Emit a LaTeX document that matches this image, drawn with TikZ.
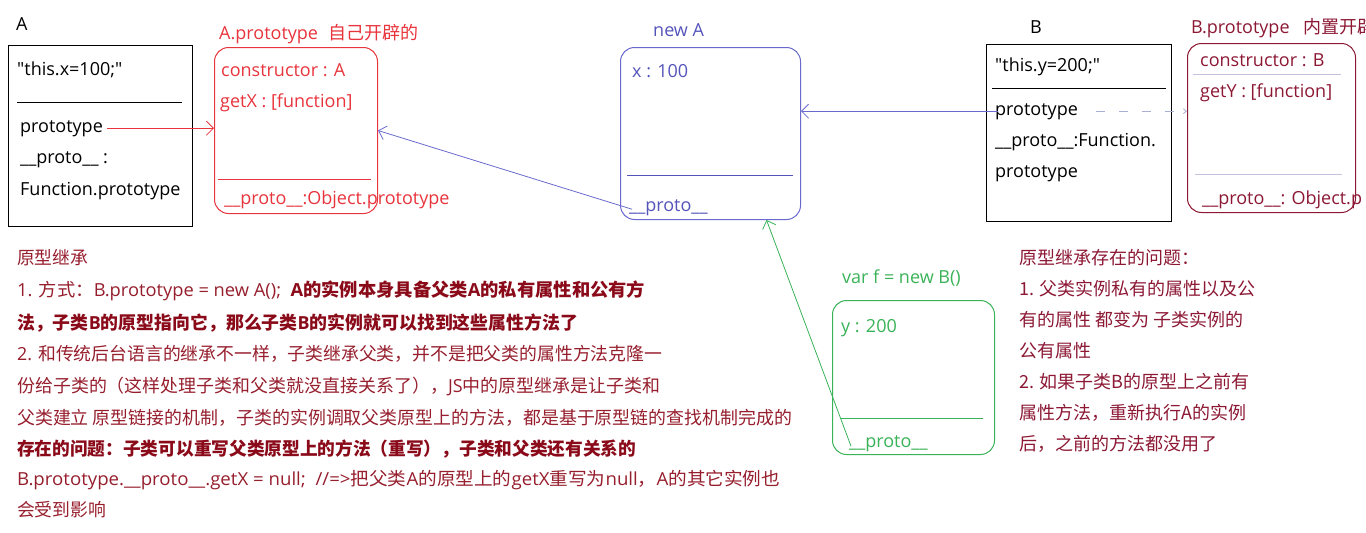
\documentclass[tikz,border=0pt]{standalone}
\usepackage{fontspec}
\setmainfont{Open Sans}[Ligatures=TeXOff]
\newfontfamily\cjk{Noto Sans CJK SC}
\usetikzlibrary{arrows.meta}
\newcommand\z[1]{{\cjk #1}}
\newcommand\fitw[2]{\resizebox{#1}{\height}{#2}}
\definecolor{cRed}{RGB}{232,52,60}
\definecolor{cBlue}{RGB}{84,84,186}
\definecolor{cBlueLine}{RGB}{106,106,206}
\definecolor{cGreen}{RGB}{58,178,88}
\definecolor{cMaroon}{RGB}{140,24,52}
\definecolor{cText}{RGB}{150,30,45}
\definecolor{cBold}{RGB}{138,10,25}
\definecolor{cDash}{RGB}{168,176,210}
\definecolor{cSep}{RGB}{195,195,225}
\begin{document}
\begin{tikzpicture}[x=1pt,y=-1pt,
  t/.style={anchor=base west, inner sep=0pt, font=\fontsize{18}{21}\selectfont},
  sqbox/.style={draw, line width=1.1pt, anchor=north west, inner sep=0pt},
  rbox/.style={draw, line width=1pt, rounded corners=14pt, anchor=north west, inner sep=0pt},
  sep/.style={line width=0.8pt},
  arr/.style={-{Straight Barb[length=7pt,width=14pt]}, line width=0.8pt}]
\useasboundingbox (0,0) rectangle (1366,533);
\clip (0,0) rectangle (1366,533);

% ---------- A ----------
\node[t] (lblA) at (16,30) {A};
\node[sqbox, minimum width=184pt, minimum height=181pt] (Abox) at (8,45) {};
\node[t] (Acode) at (17,75) {"this.x=100;"};
\draw[sep] (17,102) -- (182,102);
\node[t] (pA) at (20,132) {prototype};
\node[t] (Apr) at (20,163) {\_\_proto\_\_ :};
\node[t] (Afn) at (20,195) {Function.prototype};

% ---------- A.prototype ----------
\node[t, text=cRed] (lblAP) at (219,39) {A.prototype\hspace{10pt}\z{自己开辟的}};
\node[rbox, draw=cRed, minimum width=163pt, minimum height=166pt] (AP) at (214,47) {};
\node[t, text=cRed] (APc) at (221,76) {constructor : A};
\node[t, text=cRed] (APg) at (220,107) {getX : [function]};
\draw[sep, cRed] (218,179) -- (371,179);
\node[t, text=cRed] (APp) at (224,204) {\_\_proto\_\_:Object.prototype};

% ---------- new A ----------
\node[t, text=cBlue] (lblN) at (653,36) {new A};
\node[rbox, draw=cBlueLine, minimum width=180pt, minimum height=172pt] (NA) at (620,47) {};
\node[t, text=cBlue] (NAx) at (632,77) {x : 100};
\draw[sep, cBlue] (627,175) -- (793,175);
\node[t, text=cBlue] (NAp) at (629,211) {\_\_proto\_\_};

% ---------- B ----------
\node[t] (lblB) at (1030,33) {B};
\node[sqbox, minimum width=185pt, minimum height=177pt] (Bbox) at (986,44) {};
\node[t] (Bcode) at (995,71) {"this.y=200;"};
\draw[sep] (992,88) -- (1166,88);
\node[t] (pB) at (995,115) {prototype};
\node[t] (Bpr) at (995,146) {\_\_proto\_\_:Function.};
\node[t] (Bfn) at (995,177) {prototype};

% ---------- B.prototype ----------
\node[t, text=cMaroon] (lblBP) at (1191,33) {B.prototype\hspace{14pt}\z{内置开辟}};
\node[rbox, draw=cMaroon, minimum width=168pt, minimum height=169pt] (BP) at (1187,43) {};
\node[t, text=cMaroon] (BPc) at (1200,66) {constructor : B};
\draw[sep, cSep] (1193,74) -- (1341,74);
\node[t, text=cMaroon] (BPg) at (1200,97) {getY : [function]};
\draw[sep, cSep] (1195,174) -- (1342,174);
\node[t, text=cMaroon] (BPp) at (1202,204) {\_\_proto\_\_: Object.p};

% ---------- f ----------
\node[t, text=cGreen] (lblF) at (842,283) {var f = new B()};
\node[rbox, draw=cGreen, minimum width=162pt, minimum height=154pt] (FB) at (832,300) {};
\node[t, text=cGreen] (Fy) at (841,332) {y : 200};
\draw[sep, cGreen] (841,418) -- (983,418);
\node[t, text=cGreen] (Fp) at (849,447) {\_\_proto\_\_};

% ---------- connectors ----------
\draw[arr, cRed] ([xshift=4pt]pA.east) -- (pA.east -| AP.west);
\draw[arr, cBlueLine] ([shift={(3,2)}]NAp.west) -- (AP.east);
\draw[arr, cBlueLine] ([xshift=3pt]pB.west) -- (pB.west -| NA.east);
\draw[cDash, line width=0.8pt, dash pattern=on 9pt off 14pt,
      -{Straight Barb[length=3pt,width=5pt]}] ([xshift=18pt]pB.east) -- (pB.east -| BP.west);
\draw[arr, cGreen] ([shift={(2,3)}]Fp.west) -- ([xshift=56pt]NA.south);

% ---------- bottom-left text ----------
\begin{scope}[every node/.style={t, text=cText}]
\node (L1) at (17,264) {\fitw{71pt}{\z{原型继承}}};
\node (L2) at (17,296) {\fitw{628pt}{1. \z{方式：}B.prototype = new A();\ \ {\bfseries\color{cBold}A\z{的实例本身具备父类}A\z{的私有属性和公有方}}}};
\node (L3) at (17,329) {\fitw{561pt}{{\bfseries\color{cBold}\z{法，子类}B\z{的原型指向它，那么子类}B\z{的实例就可以找到这些属性方法了}}}};
\node (L4) at (17,360) {\fitw{645pt}{2. \z{和传统后台语言的继承不一样，子类继承父类，并不是把父类的属性方法克隆一}}};
\node (L5) at (17,392) {\fitw{643pt}{\z{份给子类的（这样处理子类和父类就没直接关系了），}JS\z{中的原型继承是让子类和}}};
\node (L6) at (17,424) {\fitw{775pt}{\z{父类建立 原型链接的机制，子类的实例调取父类原型上的方法，都是基于原型链的查找机制完成的}}};
\node (L7) at (17,455) {\fitw{619pt}{{\bfseries\color{cBold}\z{存在的问题：子类可以重写父类原型上的方法（重写），子类和父类还有关系的}}}};
\node (L8) at (17,485) {\fitw{763pt}{B.prototype.\_\_proto\_\_.getX = null;\ \ //=>\z{把父类}A\z{的原型上的}getX\z{重写为}null\z{，}A\z{的其它实例也}}};
\node (L9) at (17,516) {\fitw{89pt}{\z{会受到影响}}};
\end{scope}

% ---------- right text ----------
\begin{scope}[every node/.style={t, text=cMaroon, font=\cjk\fontsize{18}{21}\selectfont}]
\node (R1) at (1019,264) {原型继承存在的问题：};
\node (R2) at (1019,295) {1. 父类实例私有的属性以及公};
\node (R3) at (1019,326) {有的属性 都变为 子类实例的};
\node (R4) at (1019,357) {公有属性};
\node (R5) at (1019,388) {2. 如果子类B的原型上之前有};
\node (R6) at (1019,419) {属性方法，重新执行A的实例};
\node (R7) at (1019,450) {后，之前的方法都没用了};
\end{scope}
\end{tikzpicture}
\end{document}
